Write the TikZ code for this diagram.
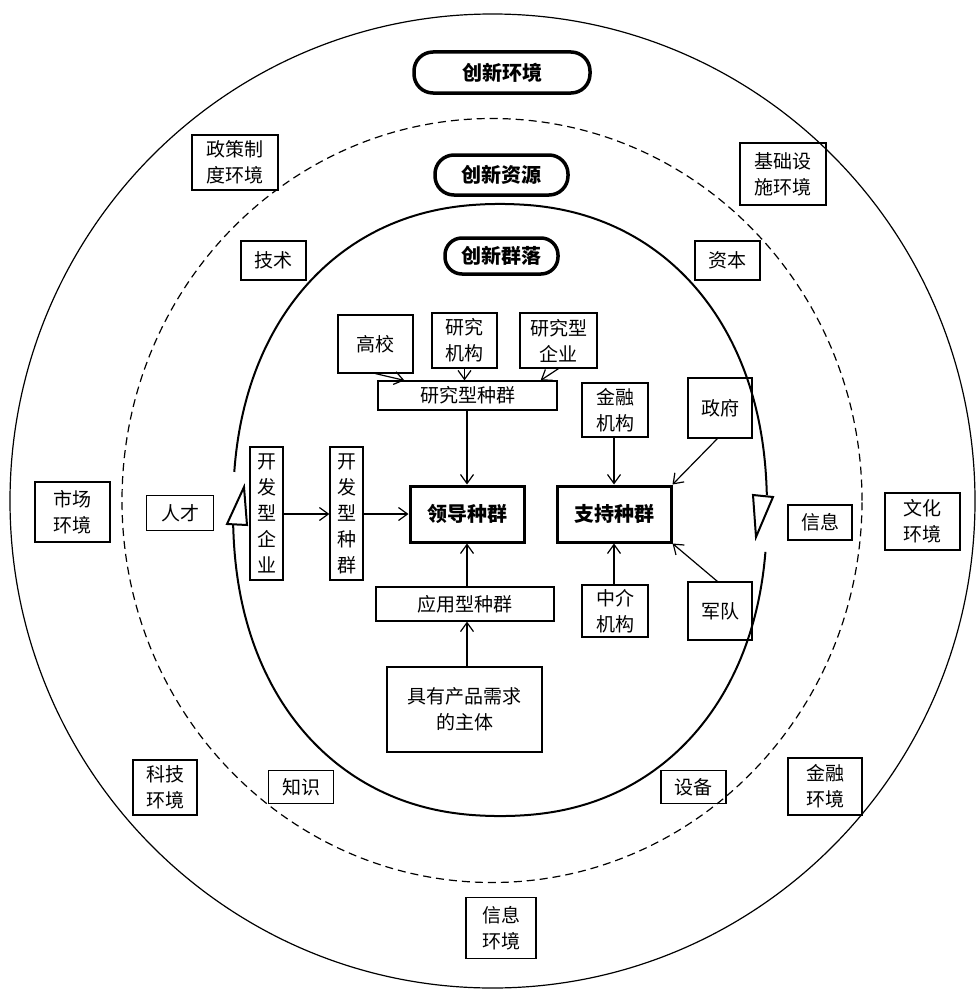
\documentclass[tikz,border=0pt]{standalone}
\usepackage{fontspec}
\setmainfont{Noto Sans CJK SC}
\usetikzlibrary{arrows.meta,calc}
\begin{document}
\begin{tikzpicture}[x=1pt,y=-1pt,
  box/.style={draw, line width=1.2pt, inner sep=0pt, align=center, font=\fontsize{19}{26}\selectfont},
  bbox/.style={draw, line width=3pt, inner sep=0pt, align=center, font=\fontsize{20}{24}\selectfont\bfseries},
  titlebox/.style={draw, line width=3.5pt, inner sep=0pt, font=\fontsize{20}{24}\selectfont\bfseries},
  arr/.style={-{Straight Barb[length=9pt,width=13pt]}, line width=1.2pt},
  ring/.style={line width=1.2pt},
  cyc/.style={line width=2pt}]
\useasboundingbox (0,0) rectangle (979,990);

% rings
\draw[ring] (492.5,501) ellipse [x radius=482.5pt, y radius=487pt];
\draw[ring, dash pattern=on 8pt off 5pt] (492,500.5) ellipse [x radius=370pt, y radius=382pt];

% inner cycle
\draw[cyc] plot[domain=174.2:2.1, samples=150, smooth] ({500+267*cos(\x)*pow(abs(cos(\x))+0.001,-0.091)}, {510-306*sin(\x)*pow(abs(sin(\x))+0.001,-0.091)});
\draw[cyc] plot[domain=-6.45:-177.9, samples=150, smooth] ({500+267*cos(\x)*pow(abs(cos(\x))+0.001,-0.091)}, {510-306*sin(\x)*pow(abs(sin(\x))+0.001,-0.091)});
\draw[cyc, fill=white] (227,524) -- (244,487) -- (247,525) -- cycle;
\draw[cyc, fill=white] (753,495) -- (773,497) -- (756,537) -- cycle;

% titles
\node[titlebox, rounded corners=19pt, minimum width=176pt, minimum height=41pt] (t1) at (502,72.5) {创新环境};
\node[titlebox, rounded corners=19pt, minimum width=133pt, minimum height=40pt] (t2) at (501.5,175) {创新资源};
\node[titlebox, rounded corners=17pt, minimum width=113pt, minimum height=36pt] (t3) at (501.5,256) {创新群落};

% environment boxes
\node[box, minimum width=86pt, minimum height=55pt] (zc) at (235,162.5) {政策制\\度环境};
\node[box, minimum width=86pt, minimum height=62pt] (jc) at (783,174) {基础设\\施环境};
\node[box, minimum width=75pt, minimum height=60pt] (sc) at (72.5,512) {市场\\环境};
\node[box, minimum width=75pt, minimum height=57pt] (wh) at (922.5,521.5) {文化\\环境};
\node[box, minimum width=64pt, minimum height=55pt] (kj) at (165,787.5) {科技\\环境};
\node[box, minimum width=74pt, minimum height=57pt] (jr) at (825,786.5) {金融\\环境};
\node[box, minimum width=70pt, minimum height=61pt] (xx) at (501,928) {信息\\环境};

% resource boxes
\node[box, minimum width=65pt, minimum height=39pt] (js) at (273.5,260.5) {技术};
\node[box, minimum width=65pt, minimum height=39pt] (zb) at (727.5,260.5) {资本};
\node[box, minimum width=67pt, minimum height=35pt] (rc) at (180,513) {人才};
\node[box, minimum width=64pt, minimum height=35pt] (xi) at (820,522.5) {信息};
\node[box, minimum width=65pt, minimum height=33pt] (zs) at (301,787) {知识};
\node[box, minimum width=65pt, minimum height=33pt] (sb) at (693.5,787) {设备};

% community boxes
\node[box, minimum width=75pt, minimum height=58pt] (gx) at (375.5,344) {高校};
\node[box, minimum width=65pt, minimum height=55pt] (yj) at (464.5,340.5) {研究\\机构};
\node[box, minimum width=77pt, minimum height=55pt] (yq) at (558.5,340.5) {研究型\\企业};
\node[box, minimum width=179pt, minimum height=29pt] (yz) at (467.5,395.5) {研究型种群};
\node[box, minimum width=66pt, minimum height=54pt] (jg) at (615,410) {金融\\机构};
\node[box, minimum width=64pt, minimum height=60pt] (zf) at (720,408) {政府};
\node[box, minimum width=33pt, minimum height=133pt] (kq) at (266.5,513.5) {开\\发\\型\\企\\业};
\node[box, minimum width=33pt, minimum height=133pt] (kz) at (346.5,513.5) {开\\发\\型\\种\\群};
\node[bbox, minimum width=114pt, minimum height=56pt] (ld) at (467,514) {领导种群};
\node[bbox, minimum width=114pt, minimum height=56pt] (zc2) at (614,514) {支持种群};
\node[box, minimum width=178pt, minimum height=34pt] (yy) at (465,604) {应用型种群};
\node[box, minimum width=155pt, minimum height=85pt] (jy) at (464.5,709.5) {具有产品需求\\的主体};
\node[box, minimum width=66pt, minimum height=52pt] (zj) at (615,611) {中介\\机构};
\node[box, minimum width=64pt, minimum height=58pt] (jd) at (720,611) {军队};

% arrows
\draw[arr] (gx.south) -- ($(yz.north west)+(27,0)$);
\draw[arr] (yj.south) -- (yj.south |- yz.north);
\draw[arr] (yq.south) -- ($(yz.north east)+(-17,0)$);
\draw[arr] (yz.south -| ld.north) -- (ld.north);
\draw[arr] (kq.east |- ld.west) -- (kz.west |- ld.west);
\draw[arr] (kz.east |- ld.west) -- (ld.west);
\draw[arr] (yy.north -| ld.south) -- (ld.south);
\draw[arr] (jy.north -| ld.south) -- (yy.south -| ld.south);
\draw[arr] (jg.south -| zc2.north) -- (zc2.north);
\draw[arr] (zj.north -| zc2.south) -- (zc2.south);
\draw[arr] ($(zf.south west)+(30,0)$) -- (zc2.north east);
\draw[arr] ($(jd.north west)+(30,0)$) -- (zc2.south east);
\end{tikzpicture}
\end{document}
